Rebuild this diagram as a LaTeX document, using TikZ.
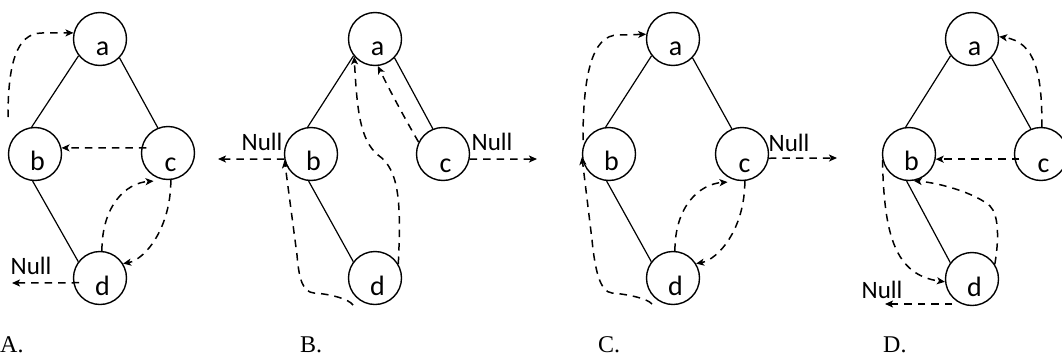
\documentclass[tikz,border=0pt]{standalone}
\usepackage{fontspec}
\setmainfont{Carlito}
\newfontfamily\serifcap{Liberation Serif}
\usetikzlibrary{arrows.meta,calc}
\newcommand{\lett}[2][16.5pt]{\smash{\makebox[0pt]{\hspace{5pt}\raisebox{-#1}{#2}}}}
\tikzset{
  vtx/.style={circle, draw, line width=1.4pt, minimum size=53pt, inner sep=0pt,
    font=\fontsize{28pt}{32pt}\selectfont},
  edge/.style={line width=1.2pt},
  dar/.style={line width=1.5pt, dash pattern=on 7.5pt off 6pt,
    -{Stealth[length=8pt,width=7pt,inset=2pt]}},
  nul/.style={font=\fontsize{25pt}{28pt}\selectfont, inner sep=0pt, anchor=base},
  caplbl/.style={font=\serifcap\fontsize{24pt}{28pt}\selectfont, anchor=base west, inner sep=0pt}
}
\begin{document}
\begin{tikzpicture}[x=1pt,y=-1pt]
\useasboundingbox (0,0) rectangle (1062,356);
% ---------------- A ----------------
\node[vtx] (Aa) at (100,39) {\lett{a}};
\node[vtx] (Ab) at (35,154) {\lett{b}};
\node[vtx] (Ac) at (168,153) {\lett[18pt]{c}};
\node[vtx] (Ad) at (100,278) {\lett[17pt]{d}};
\draw[edge] (Aa.218) -- (Ab.97);
\draw[edge] (Aa.316) -- (Ac.112);
\draw[edge] (Ab.265) -- (Ad.143);
\coordinate (Abs) at ($(Ab)+(-27,-37)$);
\draw[dar] (Abs) .. controls (8,65) and (16,33) .. (42,33) -- (Aa.167);
\draw[dar] ([xshift=5pt]Ac.169) -- (Ab.13);
\draw[dar] (Ad.86) .. controls +(0,-45) and +(-28,2) .. ([yshift=-5pt]Ac.238);
\draw[dar] (Ac.276) .. controls +(0,48) and +(22,-4) .. (Ad.32);
\coordinate (ANe) at (12,283);
\draw[dar] ([xshift=6pt]Ad.190) -- (ANe);
\node[nul] (ANull) at (31,274) {Null};
\node[caplbl] (capA) at (0,352) {A.};
% ---------------- B ----------------
\node[vtx] (Ba) at (375,39) {\lett{a}};
\node[vtx] (Bb) at (311,154) {\lett{b}};
\node[vtx] (Bc) at (443,154) {\lett[18pt]{c}};
\node[vtx] (Bd) at (375,278) {\lett[17pt]{d}};
\draw[edge] (Ba.218) -- (Bb.97);
\draw[edge] (Ba.316) -- (Bc.112);
\draw[edge] (Bb.265) -- (Bd.143);
\coordinate (BNe1) at (218,159);
\coordinate (BNe2) at (537,159);
\draw[dar] (Bb.191) -- (BNe1);
\draw[dar] (Bc.349) -- (BNe2);
\node[nul] (BNull1) at (262,150) {Null};
\node[nul] (BNull2) at (492,150) {Null};
\draw[dar] (Bd.31) .. controls (401,205) and (400,170) .. (378,155)
  .. controls (360,140) and (357,110) .. (Ba.220);
\draw[dar] (Bc.154) .. controls (404,117) and (389,89) .. (Ba.276);
\coordinate (Bds) at ($(Bd)+(-22,27)$);
\draw[dar] (Bds) .. controls (349,299) and (330,294) .. (314,293)
  .. controls (303,292) and (299,280) .. (297,255) -- (Bb.193);
\node[caplbl] (capB) at (300,352) {B.};
% ---------------- C ----------------
\node[vtx] (Ca) at (673,39) {\lett{a}};
\node[vtx] (Cb) at (609,154) {\lett{b}};
\node[vtx] (Cc) at (742,154) {\lett[18pt]{c}};
\node[vtx] (Cd) at (673,278) {\lett[17pt]{d}};
\draw[edge] (Ca.218) -- (Cb.97);
\draw[edge] (Ca.316) -- (Cc.112);
\draw[edge] (Cb.265) -- (Cd.143);
\coordinate (Cbs) at ($(Cb)+(-26,-14)$);
\draw[dar] (Cbs) .. controls (583,75) and (592,35) .. (618,35) -- (Ca.170);
\coordinate (Cds) at ($(Cd)+(-21,26)$);
\draw[dar] (Cds) .. controls (647,298) and (625,294) .. (612,293)
  .. controls (600,292) and (595,270) .. (592,240) -- (Cb.186);
\draw[dar] (Cd.86) .. controls +(0,-45) and +(-28,2) .. ([yshift=-5pt]Cc.238);
\draw[dar] (Cc.276) .. controls +(0,48) and +(22,-4) .. (Cd.32);
\coordinate (CNe) at (837,158);
\draw[dar] (Cc.351) -- (CNe);
\node[nul] (CNull) at (789,151) {Null};
\node[caplbl] (capC) at (598,352) {C.};
% ---------------- D ----------------
\node[vtx] (Da) at (972,39) {\lett{a}};
\node[vtx] (Db) at (909,154) {\lett{b}};
\node[vtx] (Dc) at (1041,154) {\lett[18pt]{c}};
\node[vtx] (Dd) at (972,279) {\lett[17pt]{d}};
\draw[edge] (Da.218) -- (Db.97);
\draw[edge] (Da.316) -- (Dc.112);
\draw[edge] (Db.265) -- (Dd.143);
\draw[dar] (Dc.88) .. controls (1042,75) and (1036,42) .. (Da.5);
\draw[dar] ([xshift=5pt]Dc.191) -- (Db.349);
\draw[dar] (Dd.33) .. controls (999,240) and (999,215) .. (990,206)
  .. controls (975,193) and (940,183) .. (Db.280);
\draw[dar] (Db.193) .. controls (884,235) and (895,275) .. (Dd.186);
\coordinate (Dds) at ($(Dd)+(-20,25)$);
\coordinate (DNe) at (885,304);
\draw[dar] (Dds) -- (DNe);
\node[nul] (DNull) at (882,298) {Null};
\node[caplbl] (capD) at (883,352) {D.};
\end{tikzpicture}
\end{document}
